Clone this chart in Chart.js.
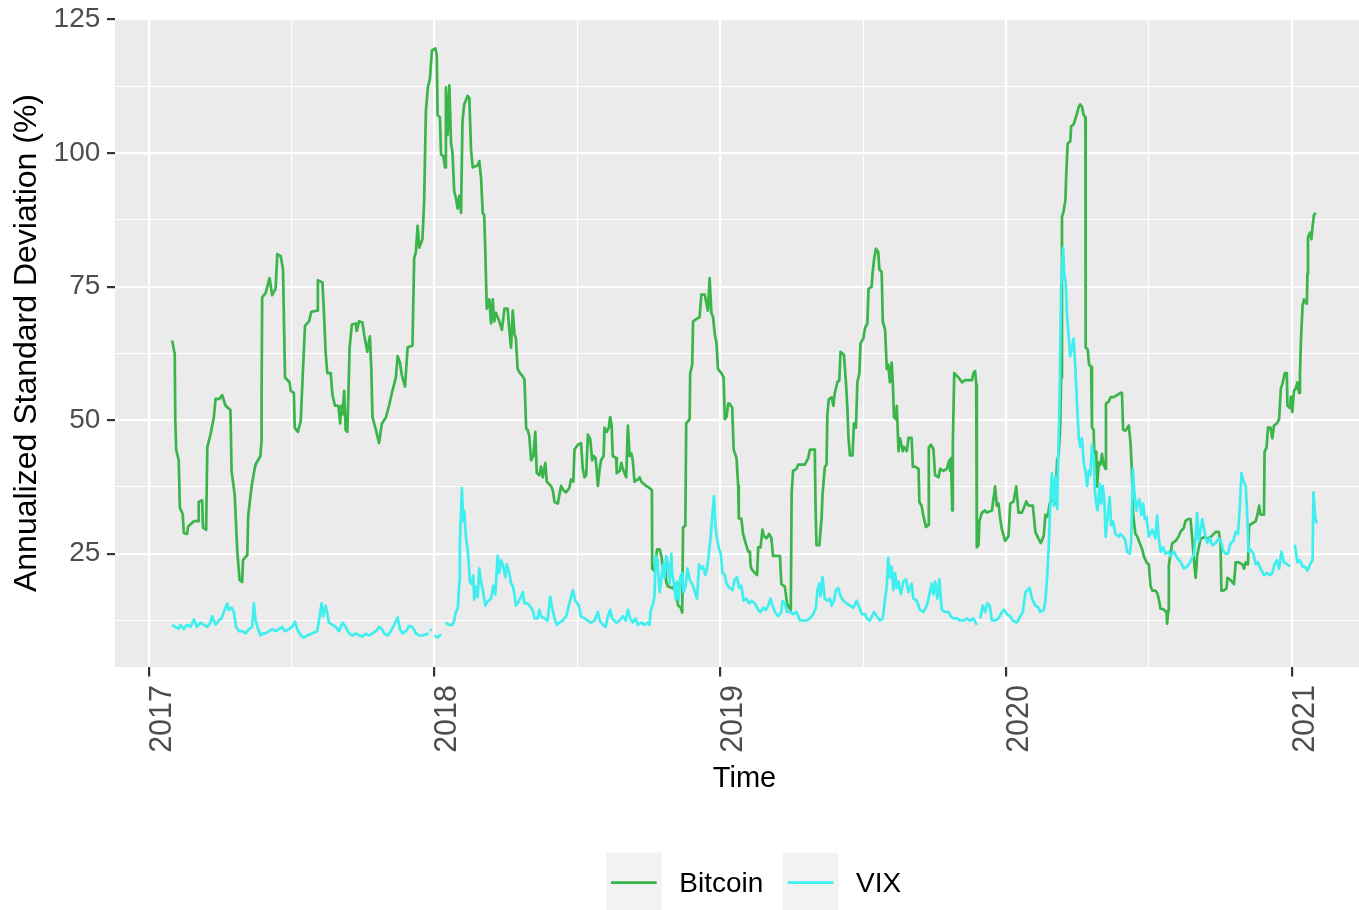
<!DOCTYPE html>
<html>
<head>
<meta charset="utf-8">
<script src="https://cdn.jsdelivr.net/npm/chart.js"></script>
<style>
html,body{margin:0;padding:0;overflow:hidden;background:#ffffff;}
canvas{display:block;}
</style>
</head>
<body>
<canvas id="chart" width="1384" height="910"></canvas>
<script>
// ---------- data (time in decimal years, values in % annualized std. dev.) ----------
const seriesNames = ['Bitcoin', 'VIX'];
const seriesColors = ['#39b54a', '#3feeee'];

const btcYear = [
2017.082,2017.091,2017.093,2017.096,2017.105,2017.109,2017.119,2017.123,2017.134,2017.138,
2017.158,2017.173,2017.175,2017.187,2017.190,2017.201,2017.205,2017.216,2017.228,2017.234,
2017.248,2017.257,2017.269,2017.286,2017.290,2017.301,2017.310,2017.318,2017.327,2017.330,
2017.345,2017.348,2017.360,2017.368,2017.374,2017.391,2017.394,2017.395,2017.397,2017.409,
2017.423,2017.432,2017.444,2017.450,2017.462,2017.470,2017.477,2017.493,2017.497,2017.508,
2017.511,2017.522,2017.532,2017.540,2017.547,2017.561,2017.569,2017.590,2017.592,2017.608,
2017.614,2017.619,2017.625,2017.637,2017.643,2017.652,2017.664,2017.670,2017.674,2017.678,
2017.684,2017.689,2017.695,2017.699,2017.703,2017.711,2017.725,2017.728,2017.736,2017.748,
2017.754,2017.765,2017.774,2017.779,2017.783,2017.795,2017.806,2017.816,2017.830,2017.841,
2017.853,2017.865,2017.871,2017.879,2017.886,2017.897,2017.906,2017.923,2017.929,2017.935,
2017.941,2017.947,2017.958,2017.964,2017.970,2017.977,2017.984,2017.991,2018.003,2018.008,
2018.011,2018.019,2018.023,2018.031,2018.037,2018.040,2018.046,2018.052,2018.058,2018.063,
2018.069,2018.075,2018.081,2018.087,2018.093,2018.098,2018.104,2018.116,2018.122,2018.128,
2018.134,2018.151,2018.157,2018.163,2018.169,2018.174,2018.178,2018.183,2018.192,2018.198,
2018.204,2018.209,2018.215,2018.227,2018.236,2018.245,2018.256,2018.262,2018.268,2018.274,
2018.280,2018.285,2018.291,2018.299,2018.309,2018.315,2018.321,2018.326,2018.332,2018.338,
2018.346,2018.353,2018.358,2018.367,2018.373,2018.379,2018.388,2018.393,2018.400,2018.408,
2018.414,2018.420,2018.432,2018.437,2018.443,2018.451,2018.461,2018.472,2018.478,2018.486,
2018.490,2018.502,2018.513,2018.519,2018.525,2018.531,2018.537,2018.545,2018.552,2018.557,
2018.564,2018.572,2018.578,2018.583,2018.592,2018.595,2018.603,2018.610,2018.615,2018.620,
2018.624,2018.636,2018.638,2018.648,2018.654,2018.659,2018.665,2018.671,2018.677,2018.683,
2018.689,2018.694,2018.700,2018.712,2018.718,2018.724,2018.732,2018.741,2018.753,2018.761,
2018.762,2018.770,2018.779,2018.788,2018.794,2018.800,2018.807,2018.811,2018.817,2018.835,
2018.841,2018.846,2018.853,2018.862,2018.867,2018.870,2018.878,2018.881,2018.893,2018.895,
2018.902,2018.905,2018.916,2018.928,2018.934,2018.946,2018.952,2018.957,2018.963,2018.969,
2018.975,2018.981,2018.987,2018.992,2019.004,2019.012,2019.016,2019.022,2019.028,2019.033,
2019.042,2019.047,2019.057,2019.063,2019.065,2019.074,2019.080,2019.089,2019.098,2019.104,
2019.106,2019.109,2019.121,2019.129,2019.133,2019.141,2019.148,2019.153,2019.162,2019.171,
2019.179,2019.185,2019.197,2019.209,2019.214,2019.226,2019.234,2019.241,2019.247,2019.250,
2019.255,2019.267,2019.273,2019.285,2019.296,2019.308,2019.314,2019.331,2019.334,2019.337,
2019.347,2019.355,2019.358,2019.366,2019.372,2019.375,2019.380,2019.390,2019.396,2019.401,
2019.410,2019.417,2019.421,2019.433,2019.440,2019.445,2019.449,2019.454,2019.463,2019.468,
2019.475,2019.480,2019.487,2019.491,2019.501,2019.507,2019.515,2019.519,2019.530,2019.533,
2019.538,2019.545,2019.553,2019.557,2019.565,2019.569,2019.577,2019.583,2019.588,2019.594,
2019.600,2019.604,2019.608,2019.614,2019.618,2019.624,2019.629,2019.639,2019.643,2019.653,
2019.659,2019.670,2019.674,2019.682,2019.694,2019.697,2019.705,2019.711,2019.720,2019.729,
2019.730,2019.737,2019.746,2019.752,2019.764,2019.770,2019.781,2019.793,2019.802,2019.805,
2019.808,2019.812,2019.814,2019.819,2019.834,2019.846,2019.857,2019.881,2019.886,2019.892,
2019.896,2019.898,2019.904,2019.907,2019.916,2019.927,2019.933,2019.951,2019.962,2019.968,
2019.974,2019.980,2019.986,2019.997,2020.009,2020.015,2020.027,2020.036,2020.044,2020.056,
2020.071,2020.079,2020.094,2020.103,2020.114,2020.122,2020.132,2020.138,2020.146,2020.153,
2020.161,2020.173,2020.179,2020.184,2020.190,2020.193,2020.196,2020.202,2020.208,2020.211,
2020.216,2020.225,2020.228,2020.237,2020.249,2020.255,2020.260,2020.266,2020.272,2020.278,
2020.279,2020.286,2020.291,2020.298,2020.301,2020.307,2020.309,2020.316,2020.319,2020.325,
2020.331,2020.336,2020.342,2020.348,2020.350,2020.360,2020.366,2020.377,2020.389,2020.401,
2020.406,2020.410,2020.418,2020.430,2020.436,2020.441,2020.445,2020.453,2020.459,2020.468,
2020.477,2020.482,2020.492,2020.500,2020.506,2020.512,2020.523,2020.529,2020.535,2020.541,
2020.552,2020.562,2020.564,2020.568,2020.570,2020.576,2020.582,2020.594,2020.605,2020.611,
2020.623,2020.628,2020.637,2020.646,2020.652,2020.658,2020.664,2020.669,2020.681,2020.693,
2020.704,2020.716,2020.734,2020.745,2020.751,2020.754,2020.761,2020.772,2020.775,2020.786,
2020.798,2020.804,2020.815,2020.827,2020.833,2020.839,2020.847,2020.851,2020.862,2020.874,
2020.880,2020.886,2020.891,2020.903,2020.905,2020.912,2020.917,2020.926,2020.932,2020.938,
2020.948,2020.956,2020.962,2020.967,2020.976,2020.983,2020.985,2020.994,2020.997,2021.002,
2021.008,2021.014,2021.020,2021.026,2021.029,2021.032,2021.038,2021.043,2021.053,2021.055,
2021.057,2021.064,2021.069,2021.073,2021.078,2021.084
];
const btcVol = [
64.9,62.4,50.2,44.5,42.5,33.6,32.4,28.9,28.7,30.1,
31.1,31.1,34.7,35.0,29.9,29.5,44.9,47.3,50.6,54.0,
54.0,54.7,52.7,51.9,40.5,36.0,25.4,20.1,19.7,23.8,
24.8,32.0,37.6,40.1,41.7,43.3,45.7,54.7,73.0,73.8,
76.6,73.4,74.6,81.1,80.7,78.2,58.0,57.1,55.5,55.1,
48.6,47.8,49.8,59.6,67.7,68.5,70.3,70.5,76.2,75.8,
69.3,62.8,58.8,58.8,54.7,52.7,52.7,49.4,52.7,51.1,
55.5,48.2,47.8,55.1,63.6,67.9,68.1,66.7,68.5,68.3,
66.0,62.8,65.7,59.6,50.6,48.2,45.7,49.4,50.5,52.7,
55.5,58.0,62.0,60.8,58.4,56.3,63.6,64.0,80.3,81.5,
86.4,82.3,83.9,91.2,107.9,112.3,113.9,119.2,119.6,118.4,
107.1,106.7,99.8,99.4,97.3,112.3,103.4,112.7,101.8,100.2,
92.9,91.6,89.6,92.0,88.8,105.8,109.1,110.7,110.3,100.6,
97.3,97.7,98.5,95.3,88.8,88.4,81.5,70.9,72.6,68.1,
72.6,68.5,70.1,68.5,66.9,70.9,70.9,66.9,63.6,70.5,
66.1,65.3,59.6,58.8,58.2,57.6,48.4,48.2,47.0,42.5,
43.3,47.8,40.1,39.7,41.3,39.3,42.0,38.5,38.1,37.7,
36.9,34.7,34.4,36.0,37.7,36.9,36.5,37.3,38.9,38.5,
44.5,45.4,45.7,40.9,39.3,39.7,47.3,46.5,42.5,43.3,
42.9,37.7,40.9,42.5,43.3,48.6,47.8,48.6,50.6,49.0,
43.3,42.9,40.1,40.5,42.0,40.9,40.1,39.3,49.0,43.3,
43.8,42.5,38.5,38.9,39.3,38.5,38.1,37.7,37.3,36.9,
22.2,21.8,25.8,25.8,24.6,22.2,23.0,19.7,18.9,18.5,
19.3,16.9,15.3,14.9,14.0,29.9,30.3,49.4,50.2,58.8,
60.4,68.5,68.9,69.3,73.5,73.5,71.8,70.5,76.6,70.1,
69.3,66.1,64.4,59.6,58.8,58.0,50.2,50.6,53.1,53.1,
52.3,44.5,42.9,37.7,31.6,31.6,28.7,27.0,25.4,25.4,
23.0,22.2,21.4,21.0,26.2,26.2,29.5,28.3,27.9,28.7,
27.9,24.6,24.6,24.6,19.3,18.9,15.7,14.9,14.5,36.4,
40.5,40.9,41.7,41.7,41.7,42.9,44.5,44.5,32.8,26.6,
26.6,31.9,36.0,41.2,41.7,51.1,53.9,54.3,52.7,55.1,
57.1,57.5,62.8,62.2,57.1,52.3,46.6,43.4,43.4,49.4,
48.6,57.1,58.8,64.4,65.3,67.3,68.1,74.6,75.0,77.4,
79.9,82.1,81.5,78.2,77.8,68.5,66.9,59.6,60.4,57.1,
60.8,57.1,50.6,50.2,52.7,44.2,46.6,44.2,45.0,44.2,
46.7,46.7,41.3,41.3,40.9,34.7,33.9,32.1,30.0,30.4,
44.9,45.4,44.6,39.7,39.3,40.9,40.5,40.9,42.5,40.5,
42.9,33.1,45.7,58.8,58.0,57.1,57.5,57.5,58.8,59.2,
56.7,26.2,26.6,31.1,32.7,33.1,32.7,33.1,37.6,34.0,
34.4,31.5,29.5,27.4,28.3,34.4,34.8,37.6,32.7,32.7,
34.8,34.0,34.0,29.1,27.8,27.0,28.3,32.3,31.9,34.4,
35.2,34.4,42.5,43.3,48.9,58.0,88.0,89.2,91.2,96.1,
101.8,102.2,105.0,105.4,107.5,108.7,109.1,108.7,107.1,106.7,
63.6,63.2,60.4,60.0,48.6,48.2,43.7,44.1,37.6,42.1,
41.7,43.7,41.7,40.9,53.1,53.5,54.3,54.3,54.7,55.1,
55.1,48.2,48.0,49.0,45.7,40.1,32.4,28.7,28.3,27.0,
25.8,24.6,23.4,23.0,19.0,18.1,18.1,17.7,16.5,14.7,
14.6,14.0,11.9,14.4,22.9,25.0,27.0,27.4,28.3,29.1,
29.9,31.1,31.5,31.5,27.8,23.8,20.5,24.6,27.8,28.1,
27.8,28.1,29.1,29.1,27.0,18.1,18.1,18.5,20.5,20.1,
19.3,23.4,23.4,23.0,22.2,23.4,23.0,30.3,30.7,31.1,
32.3,34.0,32.3,32.3,44.1,44.9,48.6,48.6,46.6,49.0,
49.4,50.2,55.9,56.7,58.8,58.8,52.7,52.3,54.4,51.5,
55.5,55.9,57.1,55.1,58.8,64.5,71.4,72.6,71.8,77.4,
84.3,85.1,83.9,86.3,88.4,88.8
];

const vixYear = [
2017.082,2017.093,2017.105,2017.111,2017.123,2017.134,2017.146,2017.158,2017.169,2017.181,
2017.193,2017.205,2017.216,2017.222,2017.234,2017.245,2017.255,2017.266,2017.275,2017.280,
2017.290,2017.298,2017.306,2017.316,2017.327,2017.339,2017.351,2017.362,2017.368,2017.374,
2017.383,2017.391,2017.400,2017.409,2017.421,2017.432,2017.444,2017.456,2017.467,2017.477,
2017.491,2017.502,2017.512,2017.520,2017.532,2017.543,2017.555,2017.573,2017.590,2017.605,
2017.610,2017.619,2017.625,2017.631,2017.643,2017.654,2017.666,2017.678,2017.689,2017.701,
2017.713,2017.725,2017.736,2017.748,2017.760,2017.771,2017.783,2017.795,2017.806,2017.816,
2017.824,2017.836,2017.847,2017.859,2017.871,2017.879,2017.888,2017.900,2017.912,2017.923,
2017.935,2017.947,2017.958,2017.970,2017.979,2017.983,2017.986,2017.990,2017.994,2017.999,
2018.011,2018.023,2018.031,2018.040,2018.049,2018.063,2018.069,2018.075,2018.082,2018.087,
2018.089,2018.096,2018.101,2018.104,2018.110,2018.116,2018.120,2018.124,2018.131,2018.136,
2018.139,2018.145,2018.151,2018.157,2018.163,2018.169,2018.178,2018.186,2018.198,2018.206,
2018.213,2018.221,2018.227,2018.233,2018.239,2018.248,2018.253,2018.262,2018.268,2018.274,
2018.280,2018.285,2018.295,2018.309,2018.315,2018.326,2018.338,2018.346,2018.350,2018.361,
2018.367,2018.373,2018.385,2018.396,2018.405,2018.412,2018.420,2018.428,2018.437,2018.449,
2018.461,2018.470,2018.478,2018.484,2018.493,2018.505,2018.513,2018.525,2018.537,2018.548,
2018.560,2018.572,2018.578,2018.589,2018.599,2018.607,2018.615,2018.622,2018.636,2018.648,
2018.659,2018.669,2018.677,2018.685,2018.694,2018.704,2018.712,2018.724,2018.735,2018.747,
2018.753,2018.756,2018.765,2018.770,2018.774,2018.779,2018.782,2018.788,2018.794,2018.800,
2018.805,2018.811,2018.817,2018.823,2018.829,2018.832,2018.837,2018.844,2018.849,2018.855,
2018.860,2018.867,2018.872,2018.879,2018.885,2018.893,2018.905,2018.914,2018.919,2018.926,
2018.934,2018.940,2018.948,2018.954,2018.961,2018.966,2018.973,2018.978,2018.983,2018.989,
2018.996,2019.002,2019.008,2019.016,2019.022,2019.033,2019.043,2019.051,2019.059,2019.066,
2019.074,2019.082,2019.092,2019.101,2019.109,2019.121,2019.133,2019.141,2019.150,2019.160,
2019.168,2019.176,2019.183,2019.191,2019.203,2019.214,2019.218,2019.226,2019.234,2019.244,
2019.255,2019.267,2019.279,2019.290,2019.302,2019.314,2019.326,2019.335,2019.340,2019.347,
2019.351,2019.358,2019.366,2019.375,2019.384,2019.390,2019.398,2019.405,2019.413,2019.419,
2019.431,2019.442,2019.454,2019.466,2019.477,2019.487,2019.495,2019.507,2019.513,2019.524,
2019.538,2019.548,2019.559,2019.569,2019.577,2019.583,2019.588,2019.594,2019.600,2019.606,
2019.612,2019.618,2019.624,2019.632,2019.641,2019.650,2019.659,2019.670,2019.676,2019.688,
2019.699,2019.711,2019.723,2019.732,2019.740,2019.746,2019.752,2019.760,2019.767,2019.775,
2019.787,2019.799,2019.807,2019.816,2019.828,2019.840,2019.851,2019.863,2019.875,2019.886,
2019.898,2019.903,2019.910,2019.919,2019.927,2019.935,2019.943,2019.951,2019.962,2019.974,
2019.986,2019.994,2020.003,2020.015,2020.024,2020.038,2020.050,2020.059,2020.068,2020.076,
2020.083,2020.091,2020.103,2020.114,2020.120,2020.132,2020.138,2020.144,2020.149,2020.155,
2020.161,2020.167,2020.173,2020.179,2020.184,2020.188,2020.193,2020.200,2020.204,2020.209,
2020.214,2020.219,2020.225,2020.231,2020.237,2020.243,2020.249,2020.255,2020.260,2020.266,
2020.272,2020.278,2020.284,2020.290,2020.295,2020.301,2020.307,2020.311,2020.316,2020.321,
2020.328,2020.333,2020.339,2020.344,2020.349,2020.356,2020.363,2020.368,2020.375,2020.383,
2020.395,2020.401,2020.410,2020.418,2020.424,2020.433,2020.438,2020.444,2020.450,2020.457,
2020.461,2020.467,2020.474,2020.480,2020.486,2020.492,2020.500,2020.512,2020.518,2020.523,
2020.529,2020.535,2020.541,2020.550,2020.558,2020.570,2020.576,2020.588,2020.599,2020.611,
2020.623,2020.634,2020.646,2020.658,2020.664,2020.669,2020.675,2020.681,2020.687,2020.695,
2020.704,2020.714,2020.722,2020.734,2020.745,2020.754,2020.761,2020.769,2020.777,2020.786,
2020.796,2020.804,2020.812,2020.819,2020.824,2020.831,2020.839,2020.845,2020.849,2020.856,
2020.866,2020.874,2020.882,2020.891,2020.903,2020.915,2020.924,2020.932,2020.940,2020.948,
2020.956,2020.964,2020.973,2020.985,2020.994,2021.003,2021.011,2021.020,2021.029,2021.038,
2021.046,2021.055,2021.064,2021.073,2021.076,2021.081,2021.084,2021.088
];
const vixVol = [
11.7,11.3,11.0,11.7,10.9,11.7,11.3,12.7,11.3,12.1,
11.7,11.3,12.1,13.3,11.7,12.5,12.9,14.5,15.7,14.5,
14.9,14.1,11.3,10.5,10.5,10.1,10.9,11.3,15.7,12.5,
10.9,9.7,10.1,10.1,10.5,10.9,10.5,10.9,11.3,10.5,
10.9,11.3,12.3,10.9,9.7,9.3,9.7,10.1,10.5,15.7,
13.3,15.3,13.7,12.1,11.7,11.3,10.5,12.1,11.3,10.1,
9.7,10.1,9.7,9.5,10.0,9.7,10.1,10.5,11.3,10.9,
10.1,9.7,10.5,11.7,13.1,10.9,10.1,10.5,11.5,11.3,
10.1,9.7,9.7,9.9,10.1,null,10.9,10.5,null,9.7,
9.3,9.9,null,12.1,11.7,11.7,12.5,14.1,14.9,19.8,
27.1,37.3,31.1,33.1,28.2,25.8,23.3,19.7,19.3,20.9,
16.4,18.8,16.9,22.2,19.8,18.2,15.3,16.1,16.6,19.0,
17.4,24.6,21.4,23.8,23.0,20.6,23.0,21.4,19.4,19.0,
17.4,15.3,16.1,17.8,15.7,15.7,14.9,14.1,12.9,12.9,
14.5,13.3,12.9,12.5,17.0,14.9,12.9,11.7,12.1,12.5,
13.3,15.3,16.9,18.2,16.2,15.3,13.3,12.9,12.5,12.1,
12.5,14.1,12.5,11.7,11.3,13.3,14.5,12.9,12.1,12.5,
13.3,12.5,14.5,12.9,12.1,12.9,11.7,12.1,11.7,12.1,
11.7,14.1,15.7,17.0,24.6,23.8,22.2,17.8,20.2,23.0,
20.6,24.6,23.0,19.4,25.0,21.4,19.8,16.6,19.8,16.2,
20.6,21.4,17.8,19.0,22.2,20.2,19.0,17.4,16.6,23.0,
22.2,22.6,21.0,22.2,25.4,27.8,32.6,35.8,30.1,27.8,
25.9,25.0,21.4,21.0,19.4,18.6,18.2,20.2,20.6,18.6,
19.0,16.2,16.6,15.7,16.2,15.7,14.5,14.1,14.9,14.5,
15.3,16.6,15.3,14.1,13.3,14.1,16.2,15.7,14.1,14.1,
13.7,14.1,12.5,12.5,12.5,12.9,13.7,14.9,18.2,19.4,
17.0,20.6,16.6,16.2,16.6,15.3,16.2,18.2,18.6,17.4,
16.2,15.7,15.3,14.9,16.2,14.9,13.7,13.7,12.9,12.5,
14.1,13.3,12.5,12.9,16.6,19.0,24.3,20.6,22.6,18.2,
21.4,18.6,19.8,17.4,19.8,20.2,17.8,19.4,16.6,16.2,
14.5,14.1,15.3,17.4,19.4,17.4,19.8,16.6,20.2,14.5,
14.1,14.1,13.3,12.9,12.9,12.5,12.5,12.9,12.5,12.9,
11.7,null,12.9,15.3,14.1,15.7,15.3,12.5,12.5,12.9,
14.1,14.5,13.7,13.3,12.5,12.1,13.3,14.1,17.8,18.2,
18.6,16.6,15.3,14.9,14.1,14.5,16.2,20.6,25.4,34.4,
40.1,34.0,39.3,33.4,45.7,54.7,75.0,82.3,77.4,75.8,
69.3,66.1,62.0,63.6,65.3,59.6,52.7,46.6,45.0,46.6,
42.1,40.5,37.7,40.5,39.7,45.4,42.5,36.9,34.4,33.1,
38.1,34.4,37.7,35.2,28.2,31.9,35.6,30.3,31.1,28.7,
28.2,28.7,28.2,27.4,25.4,25.0,27.0,40.9,36.0,33.1,
34.4,35.2,32.3,34.4,31.5,31.9,28.2,29.5,28.7,27.9,
32.2,27.9,25.4,26.2,25.0,25.4,24.6,25.4,24.2,23.5,
22.2,22.6,23.5,25.0,28.1,32.6,27.4,29.5,31.5,29.1,
27.0,27.9,26.6,27.0,27.9,27.0,25.4,25.0,25.0,27.0,
27.4,29.1,28.7,34.4,40.1,38.5,37.7,31.5,25.4,25.8,
25.0,23.0,23.4,22.2,21.0,21.4,21.0,21.4,23.0,23.8,
22.2,25.4,23.4,23.0,22.6,null,26.7,23.4,23.8,22.6,
22.6,21.8,23.0,23.8,36.5,32.6,31.4,30.7
];

// axis ticks
const yearTicks = [2017, 2018, 2019, 2020, 2021];
const yearMinorTicks = [2017.5, 2018.5, 2019.5, 2020.5];
const volTicks = [25, 50, 75, 100, 125];
const volMinorTicks = [12.5, 37.5, 62.5, 87.5, 112.5];
const xLimits = [2016.882, 2021.288];
const yLimits = [3.8, 125.1];

// ---------- chart ----------
const FONT = "'Liberation Sans', Arial, Helvetica, sans-serif";
const isMajorX = v => yearTicks.includes(v);
const isMajorY = v => volTicks.includes(v);

const panelBackground = {
  id: 'panelBackground',
  beforeDraw(chart) {
    const {ctx, chartArea: a} = chart;
    ctx.save();
    ctx.fillStyle = '#ebebeb';
    ctx.fillRect(a.left, a.top, a.right - a.left, a.bottom - a.top);
    ctx.restore();
  }
};

const ggLegend = {
  id: 'ggLegend',
  afterDraw(chart) {
    const {ctx, chartArea: a} = chart;
    const cx = (a.left + a.right) / 2;
    const yMid = chart.height - 27.3;
    const keyW = 55.7, keyH = 60, keyGap = 17.6, itemGap = 19.4;
    let x = cx - 138.5;
    ctx.save();
    ctx.font = '28px ' + FONT;
    ctx.textBaseline = 'middle';
    ctx.textAlign = 'left';
    const order = ['Bitcoin', 'VIX'];
    order.forEach(name => {
      const ds = chart.data.datasets.find(d => d.label === name);
      ctx.fillStyle = '#f2f2f2';
      ctx.fillRect(x, yMid - keyH / 2, keyW, keyH);
      ctx.strokeStyle = ds.borderColor;
      ctx.lineWidth = 2.8;
      ctx.lineCap = 'butt';
      ctx.beginPath();
      ctx.moveTo(x + 5, yMid);
      ctx.lineTo(x + keyW - 5, yMid);
      ctx.stroke();
      x += keyW + keyGap;
      ctx.fillStyle = '#000000';
      ctx.fillText(name, x, yMid + 1.3);
      x += ctx.measureText(name).width + itemGap;
    });
    ctx.restore();
  }
};

new Chart(document.getElementById('chart'), {
  type: 'line',
  data: {
    datasets: [
      {
        label: seriesNames[0],
        data: btcYear.map((t, i) => ({x: t, y: btcVol[i]})),
        borderColor: seriesColors[0],
        borderWidth: 2.7,
        pointRadius: 0,
        tension: 0,
        borderJoinStyle: 'round',
        spanGaps: false,
        order: 1
      },
      {
        label: seriesNames[1],
        data: vixYear.map((t, i) => ({x: t, y: vixVol[i]})),
        borderColor: seriesColors[1],
        borderWidth: 2.7,
        pointRadius: 0,
        tension: 0,
        borderJoinStyle: 'round',
        spanGaps: false,
        order: 0
      }
    ]
  },
  options: {
    responsive: false,
    animation: false,
    devicePixelRatio: 1,
    events: [],
    layout: {padding: {top: 19, left: 0, right: 10, bottom: 113}},
    plugins: {legend: {display: false}, tooltip: {enabled: false}},
    scales: {
      x: {
        type: 'linear',
        min: xLimits[0],
        max: xLimits[1],
        afterBuildTicks: s => { s.ticks = [...yearTicks, ...yearMinorTicks].sort((a, b) => a - b).map(v => ({value: v})); },
        afterFit: s => { s.height = 130; s.paddingLeft = 0; s.paddingRight = 0; },
        border: {display: false},
        grid: {
          color: '#ffffff',
          lineWidth: c => (c.tick && isMajorX(c.tick.value)) ? 2.2 : 1.1,
          tickColor: c => (c.tick && isMajorX(c.tick.value)) ? '#333333' : 'rgba(0,0,0,0)',
          tickLength: 9.5,
          tickWidth: 2.2
        },
        ticks: {
          autoSkip: false,
          minRotation: 90,
          maxRotation: 90,
          padding: 8.5,
          labelOffset: 13.5,
          color: '#4d4d4d',
          font: {family: FONT, size: 30.5},
          callback: v => isMajorX(v) ? String(v) : ''
        },
        title: {
          display: true,
          text: 'Time',
          color: '#000000',
          font: {family: FONT, size: 29},
          padding: {top: 0, bottom: 0.5}
        }
      },
      y: {
        type: 'linear',
        min: yLimits[0],
        max: yLimits[1],
        afterBuildTicks: s => { s.ticks = [...volTicks, ...volMinorTicks].sort((a, b) => a - b).map(v => ({value: v})); },
        afterFit: s => { s.width = 115; s.paddingTop = 0; s.paddingBottom = 0; },
        border: {display: false},
        grid: {
          color: '#ffffff',
          lineWidth: c => (c.tick && isMajorY(c.tick.value)) ? 2.2 : 1.1,
          tickColor: c => (c.tick && isMajorY(c.tick.value)) ? '#333333' : 'rgba(0,0,0,0)',
          tickLength: 8,
          tickWidth: 2.2
        },
        ticks: {
          autoSkip: false,
          padding: 6.7,
          color: '#4d4d4d',
          font: {family: FONT, size: 28},
          callback: v => isMajorY(v) ? String(v) : ''
        },
        title: {
          display: true,
          text: 'Annualized Standard Deviation (%)',
          color: '#000000',
          font: {family: FONT, size: 32},
          padding: {top: 8, bottom: 0}
        }
      }
    }
  },
  plugins: [panelBackground, ggLegend]
});
</script>
</body>
</html>
